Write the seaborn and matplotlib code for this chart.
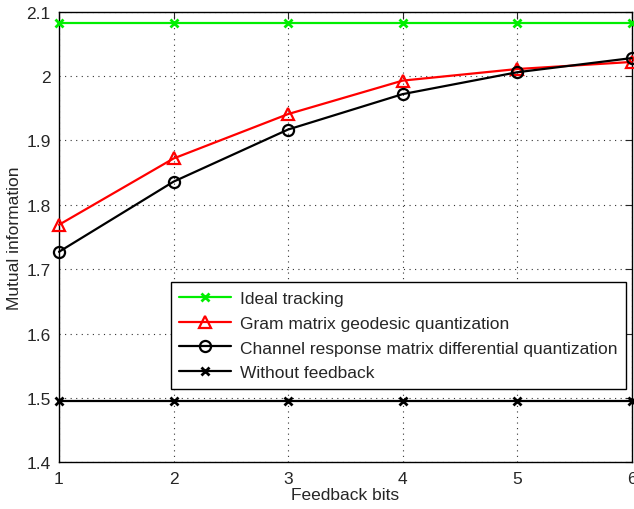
import matplotlib
matplotlib.use("Agg")
import matplotlib.pyplot as plt
import seaborn as sns
import pandas as pd

bits = [1, 2, 3, 4, 5, 6]
ideal = [2.082, 2.082, 2.082, 2.082, 2.082, 2.082]
gram = [1.769, 1.872, 1.941, 1.993, 2.011, 2.022]
channel = [1.727, 1.836, 1.917, 1.972, 2.006, 2.028]
nofb = [1.495, 1.495, 1.495, 1.495, 1.495, 1.495]
labels = ["Ideal tracking", "Gram matrix geodesic quantization",
          "Channel response matrix differential quantization", "Without feedback"]

sns.set_style("white")
plt.rcParams['font.family'] = ['Liberation Sans', 'DejaVu Sans']
plt.rcParams['font.size'] = 12.5

fig = plt.figure(figsize=(6.34, 5.10), dpi=100)
ax = fig.add_axes([0.093, 0.0916, 0.9034, 0.8834])

series = [
    (ideal, labels[0], '#00ee00', 'x', 'none'),
    (gram, labels[1], '#ff0000', '^', 'none'),
    (channel, labels[2], 'black', 'o', 'none'),
    (nofb, labels[3], 'black', 'x', 'none'),
]
for vals, lab, col, mk, fc in series:
    df = pd.DataFrame({"bits": bits, "val": vals})
    sns.lineplot(data=df, x="bits", y="val", ax=ax, color=col, marker=mk,
                 markersize=9 if mk == '^' else (8 if mk == 'o' else 6), markerfacecolor=fc,
                 markeredgecolor=col, markeredgewidth=1.6 if mk != 'x' else 2,
                 linewidth=1.6, label=lab, clip_on=False, zorder=3)

ax.set_xlim(1, 6)
ax.set_ylim(1.4, 2.1)
ax.set_xticks([1, 2, 3, 4, 5, 6])
ax.set_yticks([1.4, 1.5, 1.6, 1.7, 1.8, 1.9, 2.0, 2.1])
ax.set_yticklabels(["1.4", "1.5", "1.6", "1.7", "1.8", "1.9", "2", "2.1"])
ax.grid(True, linestyle=(0, (1, 4)), color='#333333', linewidth=0.8)
ax.tick_params(direction='in', top=True, right=True, length=5, width=0.8, labelsize=12.5, pad=6)
for s in ax.spines.values():
    s.set_color('black')
    s.set_linewidth(1.0)
ax.set_xlabel("Feedback bits", fontsize=12.5, labelpad=1)
ax.set_ylabel("Mutual information", fontsize=12.5, labelpad=3)

leg = ax.legend(loc='upper left', bbox_to_anchor=(0.195, 0.3995), borderaxespad=0,
                frameon=True, fancybox=False, edgecolor='black', framealpha=1,
                handlelength=3.0, labelspacing=0.55, fontsize=12.5, borderpad=0.5,
                handletextpad=0.5)
leg.get_frame().set_linewidth(1.0)

fig.savefig("out.png", dpi=100)
